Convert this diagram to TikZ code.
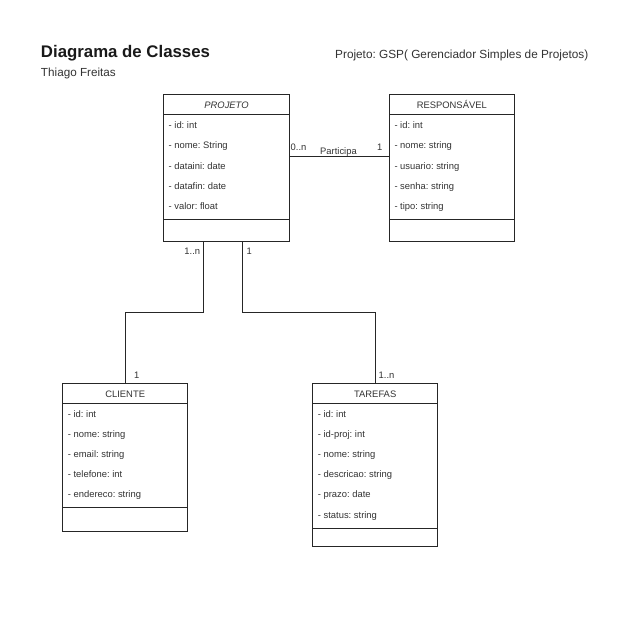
\documentclass[tikz,border=0pt]{standalone}
\usepackage{fontspec}
\setmainfont{Liberation Sans}
\frenchspacing
\begin{document}
\begin{tikzpicture}[x=1pt,y=-1pt,
  lc/.style={draw=black!85, line width=0.9pt},
  classbox/.style={lc, rectangle, inner sep=0pt, outer sep=0pt, anchor=north west, fill=white},
  hdr/.style={inner sep=0pt, anchor=base, text=black!80, font=\fontsize{9.4}{11}\selectfont},
  attr/.style={inner sep=0pt, anchor=base west, text=black!80, font=\fontsize{9.4}{11}\selectfont},
  lbl/.style={inner sep=0pt, anchor=base, text=black!80, font=\fontsize{9.4}{11}\selectfont},
  conn/.style={lc}]
\fill[white] (0,0) rectangle (625,625);
\useasboundingbox (0,0) rectangle (625,625);

% titles
\node[inner sep=0pt, anchor=base west, text=black!90, font=\fontsize{16.8}{20}\selectfont\bfseries] (title) at (40.8,57) {Diagrama de Classes};
\node[inner sep=0pt, anchor=base west, text=black!80, font=\fontsize{11.7}{14}\selectfont] (author) at (40.8,76) {Thiago Freitas};
\node[inner sep=0pt, anchor=base west, text=black!80, font=\fontsize{11.8}{14}\selectfont] (proj title) at (335,58.5) {Projeto: GSP( Gerenciador Simples de Projetos)};

% PROJETO
\node[classbox, minimum width=126pt, minimum height=147.5pt] (proj) at (163.5,94.3) {};
\node[hdr, font=\fontsize{9.4}{11}\selectfont\itshape] (projh) at (226.5,108.3) {PROJETO};
\draw[lc] (proj.west |- 0,114.3) -- (proj.east |- 0,114.3);
\draw[lc] (proj.west |- 0,219) -- (proj.east |- 0,219);
\node[attr] (p1) at (168.5,128.8) {- id: int};
\node[attr] (p2) at (168.5,148.9) {- nome: String};
\node[attr] (p3) at (168.5,169) {- dataini: date};
\node[attr] (p4) at (168.5,189.1) {- datafin: date};
\node[attr] (p5) at (168.5,209.2) {- valor: float};

% RESPONSAVEL
\node[classbox, minimum width=125pt, minimum height=147.5pt] (resp) at (389.3,94.3) {};
\node[hdr] (resph) at (451.8,108.3) {RESPONSÁVEL};
\draw[lc] (resp.west |- 0,114.3) -- (resp.east |- 0,114.3);
\draw[lc] (resp.west |- 0,219) -- (resp.east |- 0,219);
\node[attr] (r1) at (394.3,128.8) {- id: int};
\node[attr] (r2) at (394.3,148.9) {- nome: string};
\node[attr] (r3) at (394.3,169) {- usuario: string};
\node[attr] (r4) at (394.3,189.1) {- senha: string};
\node[attr] (r5) at (394.3,209.2) {- tipo: string};

% CLIENTE
\node[classbox, minimum width=125pt, minimum height=148.4pt] (cli) at (62.7,383.3) {};
\node[hdr] (clih) at (125.2,397.3) {CLIENTE};
\draw[lc] (cli.west |- 0,403.3) -- (cli.east |- 0,403.3);
\draw[lc] (cli.west |- 0,507.7) -- (cli.east |- 0,507.7);
\node[attr] (c1) at (67.7,417) {- id: int};
\node[attr] (c2) at (67.7,437.2) {- nome: string};
\node[attr] (c3) at (67.7,457.4) {- email: string};
\node[attr] (c4) at (67.7,477.6) {- telefone: int};
\node[attr] (c5) at (67.7,497.8) {- endereco: string};

% TAREFAS
\node[classbox, minimum width=125pt, minimum height=163.4pt] (tar) at (312.7,383.3) {};
\node[hdr] (tarh) at (375.2,397.3) {TAREFAS};
\draw[lc] (tar.west |- 0,403.3) -- (tar.east |- 0,403.3);
\draw[lc] (tar.west |- 0,528.3) -- (tar.east |- 0,528.3);
\node[attr] (t1) at (317.7,417) {- id: int};
\node[attr] (t2) at (317.7,437.2) {- id-proj: int};
\node[attr] (t3) at (317.7,457.4) {- nome: string};
\node[attr] (t4) at (317.7,477.6) {- descricao: string};
\node[attr] (t5) at (317.7,497.8) {- prazo: date};
\node[attr] (t6) at (317.7,518) {- status: string};

% connectors
\draw[conn] (proj.east |- 0,156.5) -- (resp.west |- 0,156.5);
\draw[conn] ([xshift=39.8pt]proj.south west) -- ++(0,70.5) -| (cli.north);
\draw[conn] ([xshift=79.2pt]proj.south west) -- ++(0,70.5) -| (tar.north);

% multiplicities
\node[lbl, anchor=base west] (m1) at (290.5,150.5) {0..n};
\node[lbl] (m2) at (338.5,154.3) {Participa};
\node[lbl] (m3) at (379.8,150.5) {1};
\node[lbl] (m4) at (192.3,254.2) {1..n};
\node[lbl] (m5) at (249.3,254.2) {1};
\node[lbl] (m6) at (136.8,378.5) {1};
\node[lbl] (m7) at (386.5,378.5) {1..n};
\end{tikzpicture}
\end{document}
